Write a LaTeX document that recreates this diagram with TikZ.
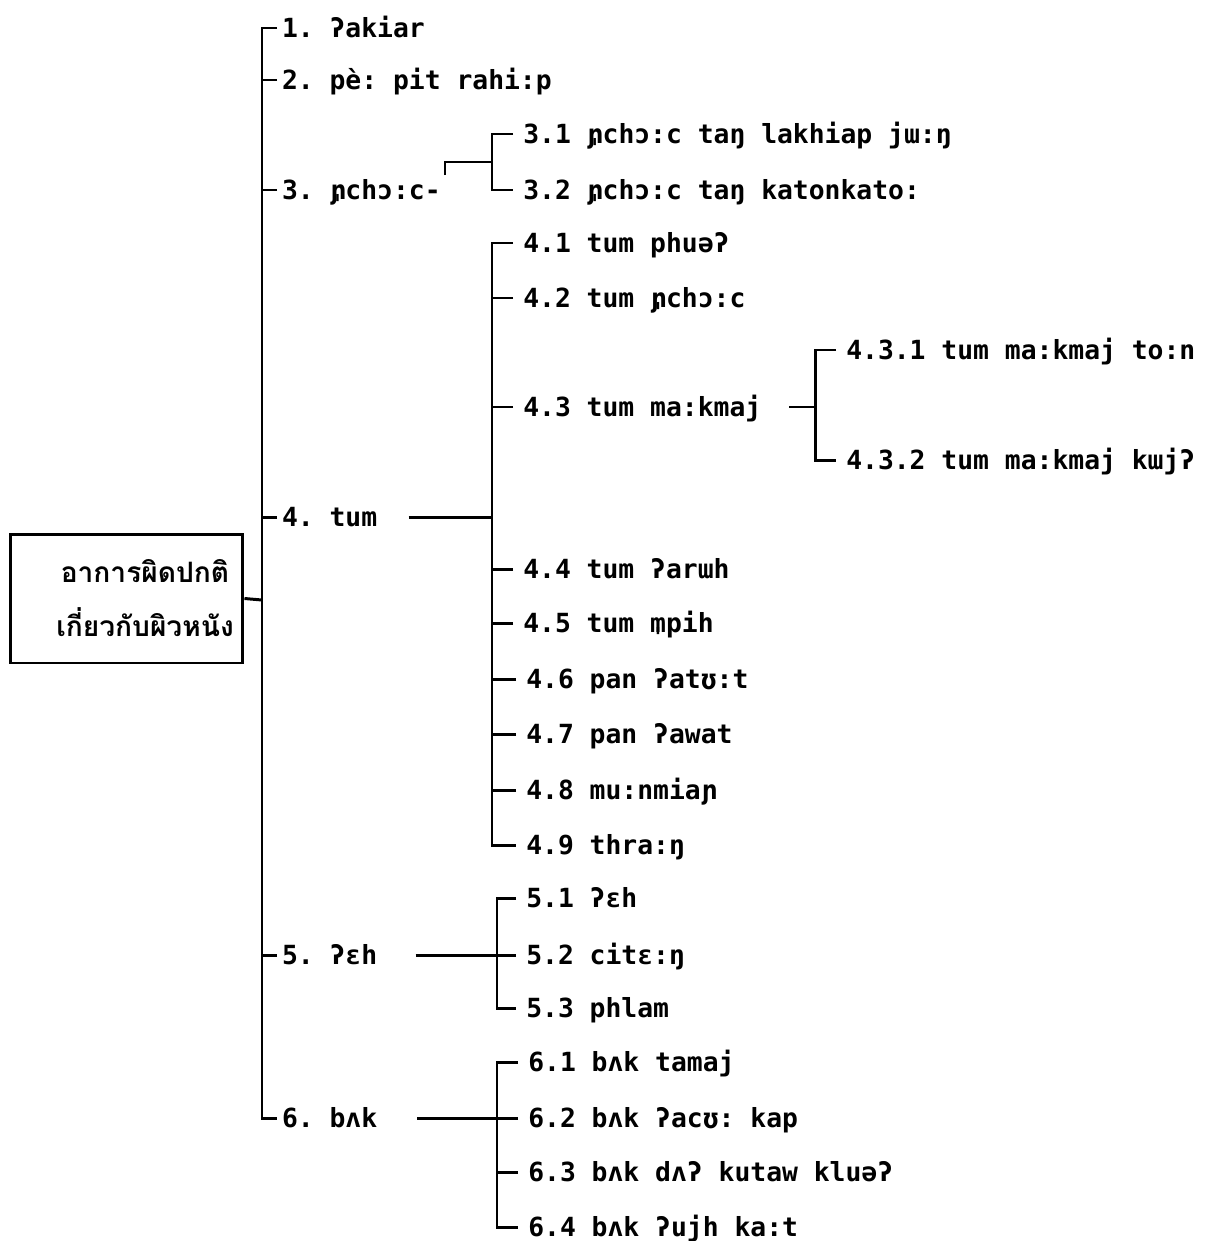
\documentclass[tikz,border=0pt]{standalone}
\usepackage{fontspec}
\setmonofont{DejaVu Sans Mono}
\newfontfamily\thaifont[Script=Thai]{Loma}
\usetikzlibrary{positioning}
\newcommand{\syl}[1]{#1\llap{ˌ}}

\begin{document}
\begin{tikzpicture}[x=0.02cm,y=-0.02cm,line width=1.7pt,
                    item/.style={anchor=west,inner xsep=2pt,inner ysep=0pt,
                      text height=11pt,text depth=0pt,
                      font=\ttfamily\bfseries\fontsize{15pt}{18pt}\selectfont},
                    sub/.style={item,inner xsep=5pt},
                    root box/.style={draw,minimum width=4.66cm,minimum height=2.58cm},
                    thai/.style={align=center,font=\thaifont\bfseries\fontsize{16pt}{30.5pt}\selectfont}]

  \path[use as bounding box,fill=white] (0,0) rectangle (1204,1241);

  % root
  \node[root box] (root) at (126.5,598.5) {};
  \node[thai] (rootlabel) at (145,598) {อาการผิดปกติ\\เกี่ยวกับผิวหนัง};
  \coordinate (trunk) at (262,600);

  % first level
  \node[item] (1) at (277,28) {1. ʔakiar};
  \node[item] (2) at (277,80) {2. pè: pit rahi:p};
  \node[item] (3) at (277,190) {3. \syl{ɲ}chɔ:c-};
  \node[item] (4) at (277,517) {4. tum};
  \node[item] (5) at (277,955) {5. ʔɛh};
  \node[item] (6) at (277,1118) {6. bʌk};

  % second level
  \node[sub] (31) at (513,134) {3.1 \syl{ɲ}chɔ:c taŋ lakhiap jɯ:ŋ};
  \node[sub] (32) at (513,190) {3.2 \syl{ɲ}chɔ:c taŋ katonkato:};

  \node[sub] (41) at (513,243) {4.1 tum phuəʔ};
  \node[sub] (42) at (513,298) {4.2 tum \syl{ɲ}chɔ:c};
  \node[sub] (43) at (513,407) {4.3 tum ma:kmaj};
  \node[sub] (44) at (513,569) {4.4 tum ʔarɯh};
  \node[sub] (45) at (513,623) {4.5 tum \syl{m}pih};
  \node[sub] (46) at (516,679) {4.6 pan ʔatʊ:t};
  \node[sub] (47) at (516,734) {4.7 pan ʔawat};
  \node[sub] (48) at (516,790) {4.8 mu:nmiaɲ};
  \node[sub] (49) at (516,845) {4.9 thra:ŋ};

  \node[sub] (431) at (836,350) {4.3.1 tum ma:kmaj to:n};
  \node[sub] (432) at (836,460) {4.3.2 tum ma:kmaj kɯjʔ};

  \node[sub] (51) at (516,898) {5.1 ʔɛh};
  \node[sub] (52) at (516,955) {5.2 citɛ:ŋ};
  \node[sub] (53) at (516,1008) {5.3 phlam};

  \node[sub] (61) at (518,1062) {6.1 bʌk tamaj};
  \node[sub] (62) at (518,1118) {6.2 bʌk ʔacʊ: kap};
  \node[sub] (63) at (518,1172) {6.3 bʌk dʌʔ kutaw kluəʔ};
  \node[sub] (64) at (518,1227) {6.4 bʌk ʔujh ka:t};

  % brackets
  \coordinate (b3) at (492,162);
  \coordinate (j3) at (445,175);
  \coordinate (b4) at (492,517);
  \coordinate (b43) at (815,407);
  \coordinate (b5) at (497,955);
  \coordinate (b6) at (497,1118);

  \draw (root.east) -- (trunk);
  \draw (1.west) -| (trunk) |- (6.west);
  \foreach \n in {2,3,4,5}
    \draw (\n.west) -- (\n.west -| trunk);

  \draw (j3) |- (b3);
  \draw (31.west) -| (b3) |- (32.west);

  \draw[shorten <=15pt] (4.east) -- (b4);
  \draw (41.west) -| (b4) |- (49.west);
  \foreach \n in {42,43,44,45,46,47,48}
    \draw (\n.west) -- (\n.west -| b4);

  \draw[shorten <=10pt] (43.east) -- (b43);
  \draw (431.west) -| (b43) |- (432.west);

  \draw[shorten <=19pt] (5.east) -- (b5);
  \draw (51.west) -| (b5) |- (53.west);
  \draw (52.west) -- (52.west -| b5);

  \draw[shorten <=20pt] (6.east) -- (b6);
  \draw (61.west) -| (b6) |- (64.west);
  \foreach \n in {62,63}
    \draw (\n.west) -- (\n.west -| b6);

\end{tikzpicture}
\end{document}
